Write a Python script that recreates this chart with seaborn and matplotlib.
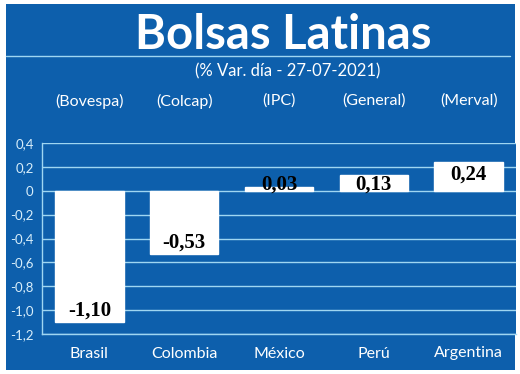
import matplotlib.pyplot as plt
import matplotlib.transforms as mtransforms
from matplotlib.patches import Rectangle
from matplotlib.lines import Line2D
import seaborn as sns
import pandas as pd

countries = ["Brasil", "Colombia", "México", "Perú", "Argentina"]
indices = ["(Bovespa)", "(Colcap)", "(IPC)", "(General)", "(Merval)"]
changes = [-1.10, -0.53, 0.03, 0.13, 0.24]
yticks = [0.4, 0.2, 0.0, -0.2, -0.4, -0.6, -0.8, -1.0, -1.2]

BLUE = "#0d5fac"
GRID = "#9fd6f2"
SANS = ["Lato", "DejaVu Sans"]
NARROW = ["Liberation Sans Narrow", "Lato", "DejaVu Sans"]
SERIF = ["Liberation Serif", "DejaVu Serif"]

sns.set_style("white")
plt.rcParams["font.family"] = SANS

df = pd.DataFrame({"pais": countries, "var": changes})

W, H = 520, 374
fig = plt.figure(figsize=(W / 100, H / 100), dpi=100, facecolor="white")
fig.patches.append(Rectangle((6 / W, 4 / H), 509 / W, 366 / H,
                             transform=fig.transFigure, facecolor=BLUE,
                             edgecolor="none", zorder=-10))

ax = fig.add_axes([42 / W, (H - 334) / H, 474 / W, 191 / H])
ax.set_facecolor(BLUE)
sns.barplot(data=df, x="pais", y="var", color="white", saturation=1,
            width=0.72, ax=ax, zorder=3)

ax.set_ylim(-1.2, 0.4)
ax.set_xlim(-0.5, len(countries) - 0.5)
ax.set_yticks(yticks)
ax.set_yticklabels(["0" if t == 0 else f"{t:.1f}".replace(".", ",") for t in yticks])
ax.yaxis.grid(True, color=GRID, lw=1)
ax.set_axisbelow(True)
ax.tick_params(axis="y", length=0, pad=6, labelsize=9.5, labelcolor="#d8eefa")
ax.tick_params(axis="x", length=0, pad=9, labelsize=11.5, labelcolor="white")
for lab in ax.get_xticklabels():
    lab.set_family(NARROW)
ax.set_xlabel("")
ax.set_ylabel("")
for side in ["top", "right"]:
    ax.spines[side].set_visible(False)
for side in ["left", "bottom"]:
    ax.spines[side].set_color(GRID)
    ax.spines[side].set_linewidth(1)

# value labels: negatives sit at the bar end, positives hang from the top
for i, v in enumerate(changes):
    txt = f"{v:.2f}".replace(".", ",")
    if v < 0:
        ax.annotate(txt, xy=(i, v), xytext=(0, 1), textcoords="offset points",
                    ha="center", va="bottom", fontsize=15, fontweight="bold",
                    family=SERIF, color="black", zorder=5)
    else:
        ax.annotate(txt, xy=(i, max(v, 0.155)), xytext=(0, -2),
                    textcoords="offset points", ha="center", va="top",
                    fontsize=15, fontweight="bold", family=SERIF,
                    color="black", zorder=5)

# index names above the plot
trans = mtransforms.blended_transform_factory(ax.transData, fig.transFigure)
for i, name in enumerate(indices):
    ax.text(i, 1 - 101 / H, name, transform=trans, ha="center", va="center",
            fontsize=11.5, color="white", family=NARROW)

fig.text(283 / W, 1 - 35 / H, "Bolsas Latinas", ha="center", va="center",
         fontsize=34, fontweight="bold", color="white")
fig.lines.append(Line2D([6 / W, 510 / W], [1 - 56 / H, 1 - 56 / H],
                        transform=fig.transFigure, color=GRID, lw=1))
fig.text(288 / W, 1 - 71 / H, "(% Var. día - 27-07-2021)", ha="center",
         va="center", fontsize=12, color="white")

fig.savefig("out.png", dpi=100, facecolor="white")
